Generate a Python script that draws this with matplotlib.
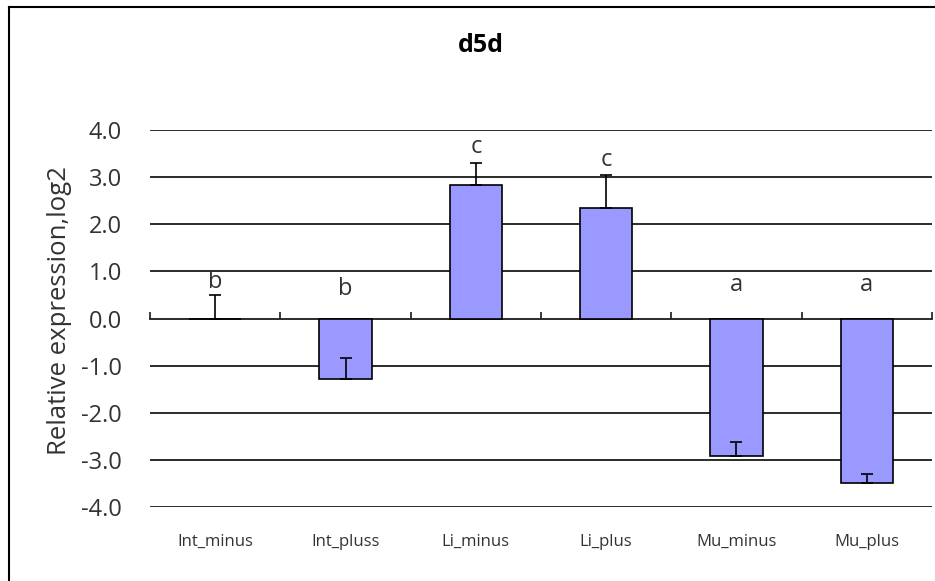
import matplotlib
matplotlib.use('Agg')
import matplotlib.pyplot as plt
from matplotlib.lines import Line2D
from matplotlib.transforms import blended_transform_factory
import numpy as np

# dane
categories = ['Int_minus', 'Int_pluss', 'Li_minus', 'Li_plus', 'Mu_minus', 'Mu_plus']
values = [0.0, -1.28, 2.83, 2.34, -2.91, -3.50]
errors = [0.49, 0.44, 0.48, 0.71, 0.29, 0.20]
letters = ['b', 'b', 'c', 'c', 'a', 'a']
letter_y = [0.78, 0.62, 3.64, 3.36, 0.71, 0.71]
yticks = [-4, -3, -2, -1, 0, 1, 2, 3, 4]

plt.rcParams['font.family'] = ['Open Sans', 'DejaVu Sans']
plt.rcParams['axes.unicode_minus'] = False
txt_color = '#333333'

fig = plt.figure(figsize=(9.35, 5.81), dpi=100)
ax = fig.add_axes([150 / 935, 1 - 507 / 581, 782 / 935, 377 / 581])

x = np.arange(len(categories))
ax.bar(x, values, width=0.4, color='#9999FF', edgecolor='black', linewidth=1.2, zorder=3)
ax.errorbar(x, values, yerr=[[0] * len(errors), errors], fmt='none',
            ecolor='black', elinewidth=1.2, capsize=4.5, capthick=1.2, zorder=4)

# siatka
for v in yticks:
    if v != 0:
        ax.axhline(v, color='#1a1a1a', linewidth=1.3, zorder=1)

ax.set_xlim(-0.5, len(categories) - 0.5)
ax.set_ylim(-4, 4)

# oś X na zerze, kreski na granicach kategorii
for s in ['top', 'right', 'left']:
    ax.spines[s].set_visible(False)
ax.spines['bottom'].set_position(('data', 0))
ax.spines['bottom'].set_linewidth(1.3)
ax.spines['bottom'].set_color('#1a1a1a')
ax.spines['bottom'].set_zorder(2)
ax.set_xticks(np.arange(len(categories) + 1) - 0.5)
ax.set_xticklabels([])
ax.tick_params(axis='x', direction='in', length=5, width=1.2, color='#1a1a1a')

ax.set_yticks(yticks)
ax.set_yticklabels([f"{v:.1f}" for v in yticks], fontsize=17, color=txt_color)
ax.tick_params(axis='y', length=0, pad=20)

trans = blended_transform_factory(ax.transData, ax.transAxes)
for i, c in enumerate(categories):
    ax.text(i, -0.093, c, transform=trans, ha='center', va='center',
            fontsize=12, color=txt_color)

for i, l in enumerate(letters):
    ax.text(i, letter_y[i], l, ha='center', va='center', fontsize=17, color=txt_color, zorder=5)

ax.set_ylabel('Relative expression,log2', fontsize=18.5, color=txt_color)
ax.yaxis.set_label_coords(-0.10, 0.52)

fig.text(481 / 935, 1 - 46 / 581, 'd5d', ha='center', va='center',
         fontsize=18, fontweight='bold', color='black')

# ramka wykresu
fig.add_artist(Line2D([9 / 935, 9 / 935], [0, 1 - 7 / 581], transform=fig.transFigure,
                      color='black', linewidth=1.5))
fig.add_artist(Line2D([9 / 935, 1], [1 - 7 / 581, 1 - 7 / 581], transform=fig.transFigure,
                      color='black', linewidth=1.5))

fig.savefig('out.png', dpi=100)
plt.close()
